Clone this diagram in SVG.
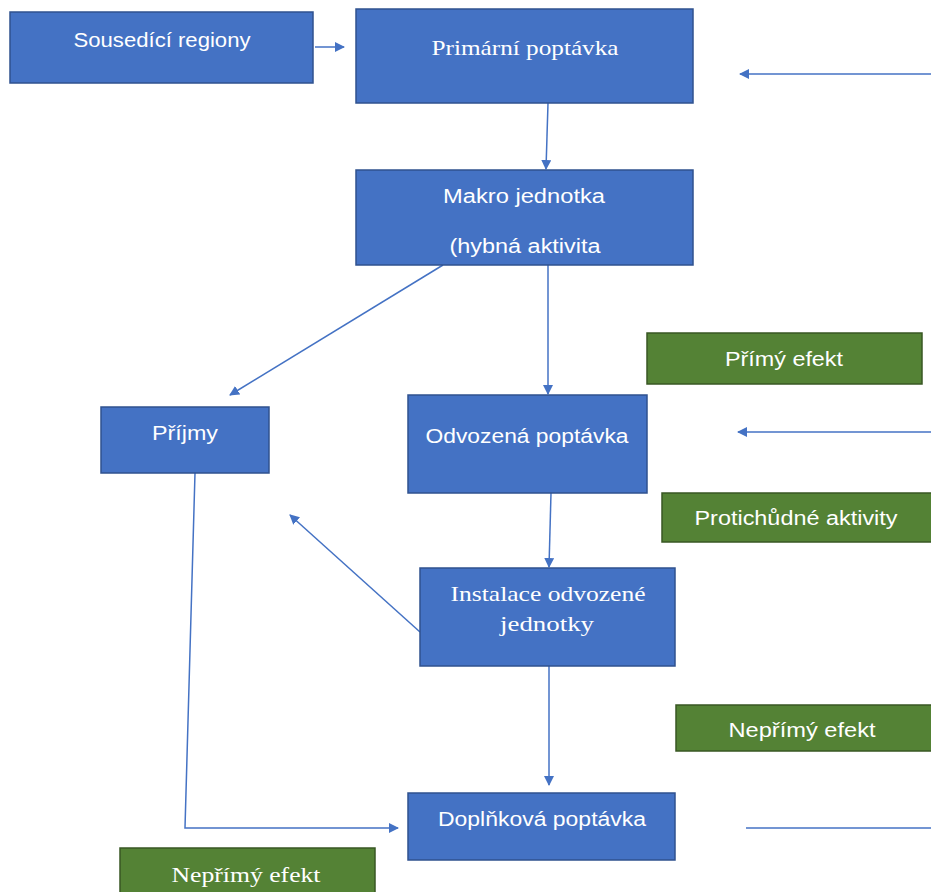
<svg xmlns="http://www.w3.org/2000/svg" width="931" height="892" viewBox="0 0 931 892">
<style>
.b{fill:#4472C4;stroke:#2F528F;stroke-width:1.5}
.g{fill:#548235;stroke:#385723;stroke-width:1.5}
.s{font-family:"Liberation Sans",Arial,sans-serif;font-size:20px;fill:#fff;text-anchor:middle}
.r{font-family:"Liberation Serif","Times New Roman",serif;font-size:21px;fill:#fff;text-anchor:middle}
.c{fill:none;stroke:#4472C4;stroke-width:1.5}
</style>
<defs>
<marker id="ah" viewBox="0 0 10 10" refX="9" refY="5" markerWidth="10" markerHeight="10" markerUnits="userSpaceOnUse" orient="auto">
<path d="M0,0 L10,5 L0,10 Z" fill="#4472C4"/>
</marker>
</defs>
<rect width="931" height="892" fill="#fff"/>
<g id="connectors">
<line class="c" x1="315" y1="47" x2="344" y2="47" marker-end="url(#ah)"/>
<line class="c" x1="931" y1="74" x2="740" y2="74" marker-end="url(#ah)"/>
<line class="c" x1="548" y1="103" x2="546" y2="169" marker-end="url(#ah)"/>
<line class="c" x1="443" y1="265" x2="230" y2="395" marker-end="url(#ah)"/>
<line class="c" x1="548" y1="265" x2="548" y2="394" marker-end="url(#ah)"/>
<line class="c" x1="931" y1="432" x2="738" y2="432" marker-end="url(#ah)"/>
<line class="c" x1="551" y1="493" x2="549" y2="567" marker-end="url(#ah)"/>
<line class="c" x1="420" y1="632" x2="290" y2="515" marker-end="url(#ah)"/>
<polyline class="c" points="195,473 185,828 398,828" marker-end="url(#ah)"/>
<line class="c" x1="549" y1="666" x2="549" y2="785" marker-end="url(#ah)"/>
<line class="c" x1="746" y1="828" x2="931" y2="828"/>
</g>
<g id="sousedici"><rect class="b" x="10" y="12" width="303" height="71"/><text class="s" x="162" y="47" textLength="177" lengthAdjust="spacingAndGlyphs">Sousedící regiony</text></g>
<g id="primarni"><rect class="b" x="356" y="9" width="337" height="94"/><text class="r" x="525" y="55" textLength="187" lengthAdjust="spacingAndGlyphs">Primární poptávka</text></g>
<g id="makro"><rect class="b" x="356" y="170" width="337" height="95"/><text class="s" x="524" y="203" textLength="162" lengthAdjust="spacingAndGlyphs">Makro jednotka</text><text class="s" x="525" y="253" textLength="151" lengthAdjust="spacingAndGlyphs">(hybná aktivita</text></g>
<g id="primy-efekt"><rect class="g" x="647" y="333" width="275" height="51"/><text class="s" x="784" y="366" textLength="118" lengthAdjust="spacingAndGlyphs">Přímý efekt</text></g>
<g id="prijmy"><rect class="b" x="101" y="407" width="168" height="66"/><text class="s" x="185" y="440" textLength="66" lengthAdjust="spacingAndGlyphs">Příjmy</text></g>
<g id="odvozena"><rect class="b" x="408" y="395" width="239" height="98"/><text class="s" x="527" y="443" textLength="203" lengthAdjust="spacingAndGlyphs">Odvozená poptávka</text></g>
<g id="protichudne"><rect class="g" x="662" y="493" width="275" height="49"/><text class="s" x="796" y="525" textLength="203" lengthAdjust="spacingAndGlyphs">Protichůdné aktivity</text></g>
<g id="instalace"><rect class="b" x="420" y="568" width="255" height="98"/><text class="r" x="548" y="601" textLength="195" lengthAdjust="spacingAndGlyphs">Instalace odvozené</text><text class="r" x="547" y="631" textLength="94" lengthAdjust="spacingAndGlyphs">jednotky</text></g>
<g id="neprimy-efekt-1"><rect class="g" x="676" y="705" width="260" height="46"/><text class="s" x="802" y="737" textLength="147" lengthAdjust="spacingAndGlyphs">Nepřímý efekt</text></g>
<g id="doplnkova"><rect class="b" x="408" y="793" width="267" height="67"/><text class="s" x="542" y="826" textLength="208" lengthAdjust="spacingAndGlyphs">Doplňková poptávka</text></g>
<g id="neprimy-efekt-2"><rect class="g" x="120" y="848" width="255" height="50"/><text class="r" x="246" y="882" textLength="149" lengthAdjust="spacingAndGlyphs">Nepřímý efekt</text></g>
</svg>
